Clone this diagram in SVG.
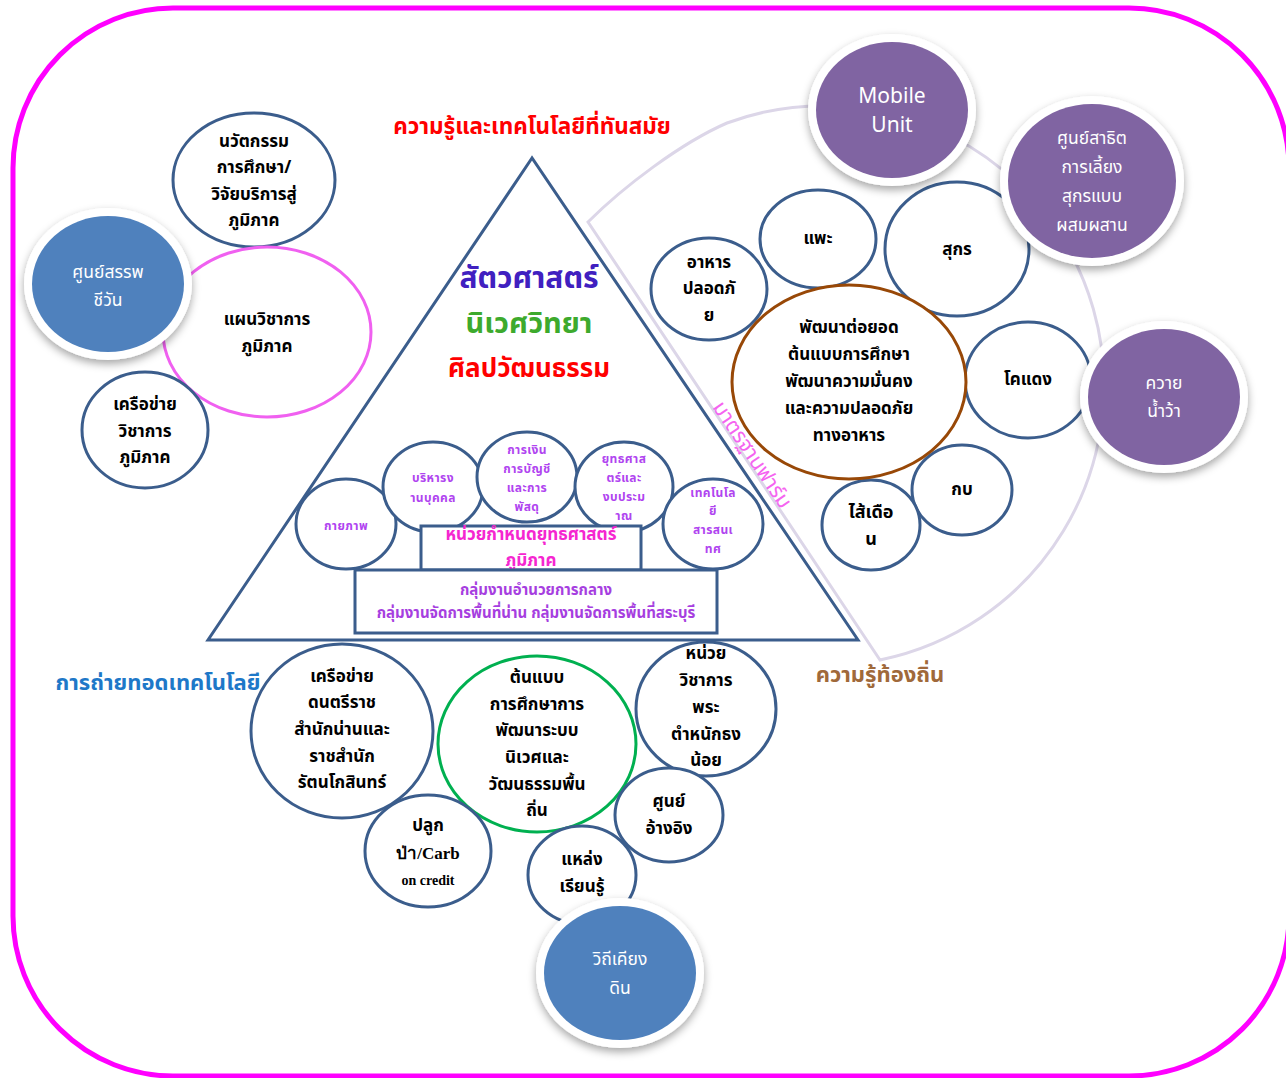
<svg xmlns="http://www.w3.org/2000/svg" width="1286" height="1078" viewBox="0 0 1286 1078">
<defs>
<style>
text{font-family:"Noto Sans Thai","Liberation Sans","Noto Sans","DejaVu Sans",sans-serif;text-anchor:middle;dominant-baseline:central}
.c{fill:#fff;stroke:#3B5D8C;stroke-width:3}
.t{font-size:17px;font-weight:bold;fill:#000}
.tp{font-size:12px;font-weight:bold;fill:#B044F0;letter-spacing:0.4px}
.w{font-size:17.5px;fill:#fff}
.ring{fill:#fff;filter:url(#sh)}
.blue{fill:#4F81BD}
.purple{fill:#8064A2}
</style>
<filter id="sh" x="-30%" y="-30%" width="160%" height="170%">
<feDropShadow dx="0" dy="4" stdDeviation="4" flood-color="#000" flood-opacity="0.35"/>
</filter>
</defs>
<rect width="1286" height="1078" fill="#fff"/>
<rect x="13" y="8" width="1276" height="1068" rx="160" ry="160" fill="none" stroke="#FF00FF" stroke-width="5"/>

<g id="connectors">
<path d="M880,660 L588,222 C623,187 681,143 727,123 A280,280 0 1 1 880,660 Z" fill="none" stroke="#DCD6E8" stroke-width="3"/>
</g>

<g id="triangle">
<polygon points="532,158 208,640 858,640" fill="none" stroke="#3B5D8C" stroke-width="3"/>
</g>

<g id="labels">
<text x="532" y="127" style="font-size:22.5px;font-weight:bold;fill:#FF0000">ความรู้และเทคโนโลยีที่ทันสมัย</text>
<text x="529" y="279" style="font-size:30px;font-weight:bold;fill:#4020C0">สัตวศาสตร์</text>
<text x="529" y="324" style="font-size:29px;font-weight:bold;fill:#3DAA2D">นิเวศวิทยา</text>
<text x="529" y="369" style="font-size:26px;font-weight:bold;fill:#FF0000">ศิลปวัฒนธรรม</text>
<text x="158" y="683" style="font-size:22px;font-weight:bold;fill:#1E78C8">การถ่ายทอดเทคโนโลยี</text>
<text x="880" y="675" style="font-size:22px;font-weight:bold;fill:#A0693A">ความรู้ท้องถิ่น</text>
<text x="752" y="455" transform="rotate(56 752 455)" style="font-size:21px;fill:#F564F0">มาตรฐานฟาร์ม</text>
</g>

<g id="n-nawat">
<ellipse class="c" cx="254" cy="180" rx="81" ry="67"/>
<text class="t" x="254" y="142">นวัตกรรม</text>
<text class="t" x="254" y="168">การศึกษา/</text>
<text class="t" x="254" y="195">วิจัยบริการสู่</text>
<text class="t" x="254" y="221">ภูมิภาค</text>
</g>
<g id="n-plan">
<ellipse cx="267" cy="332" rx="104" ry="85" fill="#fff" stroke="#F060F0" stroke-width="3"/>
<text class="t" x="267" y="320">แผนวิชาการ</text>
<text class="t" x="267" y="347">ภูมิภาค</text>
</g>
<g id="n-sanpa">
<ellipse class="ring" cx="108" cy="284" rx="84" ry="76"/>
<ellipse class="blue" cx="108" cy="284" rx="76" ry="68"/>
<text class="w" x="108" y="272">ศูนย์สรรพ</text>
<text class="w" x="108" y="300">ชีวัน</text>
</g>
<g id="n-network">
<ellipse class="c" cx="145" cy="430" rx="63" ry="58"/>
<text class="t" x="145" y="405">เครือข่าย</text>
<text class="t" x="145" y="432">วิชาการ</text>
<text class="t" x="145" y="458">ภูมิภาค</text>
</g>

<g id="n-physical">
<ellipse class="c" cx="346" cy="524" rx="50" ry="45"/>
<text class="tp" x="346" y="526">กายภาพ</text>
</g>
<g id="n-hr">
<ellipse class="c" cx="433" cy="487" rx="50" ry="45"/>
<text class="tp" x="433" y="478">บริหารง</text>
<text class="tp" x="433" y="498">านบุคคล</text>
</g>
<g id="n-finance">
<ellipse class="c" cx="527" cy="477" rx="50" ry="45"/>
<text class="tp" x="527" y="450">การเงิน</text>
<text class="tp" x="527" y="469">การบัญชี</text>
<text class="tp" x="527" y="488">และการ</text>
<text class="tp" x="527" y="507">พัสดุ</text>
</g>
<g id="n-strategy">
<ellipse class="c" cx="624" cy="487" rx="49" ry="45"/>
<text class="tp" x="624" y="459">ยุทธศาส</text>
<text class="tp" x="624" y="478">ตร์และ</text>
<text class="tp" x="624" y="497">งบประม</text>
<text class="tp" x="624" y="516">าณ</text>
</g>
<g id="n-it">
<ellipse class="c" cx="713" cy="524" rx="50" ry="45"/>
<text class="tp" x="713" y="493">เทคโนโล</text>
<text class="tp" x="713" y="511">ยี</text>
<text class="tp" x="713" y="530">สารสนเ</text>
<text class="tp" x="713" y="549">ทศ</text>
</g>
<g id="n-unit">
<rect x="421" y="526" width="220" height="44" fill="#fff" stroke="#3B5D8C" stroke-width="3"/>
<text x="531" y="535" style="font-size:17px;font-weight:bold;fill:#F526D0">หน่วยกำหนดยุทธศาสตร์</text>
<text x="531" y="561" style="font-size:17px;font-weight:bold;fill:#F526D0">ภูมิภาค</text>
</g>
<g id="n-groups">
<rect x="355" y="570" width="362" height="63" fill="#fff" stroke="#3B5D8C" stroke-width="3"/>
<text x="536" y="590" style="font-size:15px;font-weight:bold;fill:#A63EE0">กลุ่มงานอำนวยการกลาง</text>
<text x="536" y="613" style="font-size:15px;font-weight:bold;fill:#A63EE0">กลุ่มงานจัดการพื้นที่น่าน กลุ่มงานจัดการพื้นที่สระบุรี</text>
</g>

<g id="n-food">
<ellipse class="c" cx="709" cy="289" rx="58" ry="51"/>
<text class="t" x="709" y="263">อาหาร</text>
<text class="t" x="709" y="289">ปลอดภั</text>
<text class="t" x="709" y="316">ย</text>
</g>
<g id="n-goat">
<ellipse class="c" cx="818" cy="239" rx="58" ry="49"/>
<text class="t" x="818" y="239">แพะ</text>
</g>
<g id="n-pig">
<ellipse class="c" cx="957" cy="249" rx="72" ry="67"/>
<text class="t" x="957" y="250">สุกร</text>
</g>
<g id="n-cattle">
<ellipse class="c" cx="1028" cy="380" rx="63" ry="58"/>
<text class="t" x="1028" y="380">โคแดง</text>
</g>
<g id="n-frog">
<ellipse class="c" cx="962" cy="490" rx="50" ry="45"/>
<text class="t" x="962" y="490">กบ</text>
</g>
<g id="n-worm">
<ellipse class="c" cx="871" cy="525" rx="49" ry="45"/>
<text class="t" x="871" y="512" style="font-size:18px">ไส้เดือ</text>
<text class="t" x="871" y="539" style="font-size:18px">น</text>
</g>
<g id="n-develop">
<ellipse cx="849" cy="382" rx="117" ry="97" fill="#fff" stroke="#984807" stroke-width="3"/>
<text class="t" x="849" y="328">พัฒนาต่อยอด</text>
<text class="t" x="849" y="355">ต้นแบบการศึกษา</text>
<text class="t" x="849" y="382">พัฒนาความมั่นคง</text>
<text class="t" x="849" y="409">และความปลอดภัย</text>
<text class="t" x="849" y="436">ทางอาหาร</text>
</g>
<g id="n-mobile">
<ellipse class="ring" cx="892" cy="110" rx="84" ry="76"/>
<ellipse class="purple" cx="892" cy="110" rx="76" ry="68"/>
<text class="w" x="892" y="96" style="font-size:21px">Mobile</text>
<text class="w" x="892" y="125" style="font-size:21px">Unit</text>
</g>
<g id="n-pigdemo">
<ellipse class="ring" cx="1092" cy="181" rx="92" ry="85"/>
<ellipse class="purple" cx="1092" cy="181" rx="84" ry="77"/>
<text class="w" x="1092" y="138">ศูนย์สาธิต</text>
<text class="w" x="1092" y="167">การเลี้ยง</text>
<text class="w" x="1092" y="196">สุกรแบบ</text>
<text class="w" x="1092" y="225">ผสมผสาน</text>
</g>
<g id="n-buffalo">
<ellipse class="ring" cx="1164" cy="397" rx="84" ry="76"/>
<ellipse class="purple" cx="1164" cy="397" rx="76" ry="68"/>
<text class="w" x="1164" y="383">ควาย</text>
<text class="w" x="1164" y="411">น้ำว้า</text>
</g>

<g id="n-music">
<ellipse class="c" cx="342" cy="731" rx="91" ry="87"/>
<text class="t" x="342" y="677">เครือข่าย</text>
<text class="t" x="342" y="703">ดนตรีราช</text>
<text class="t" x="342" y="730">สำนักน่านและ</text>
<text class="t" x="342" y="757">ราชสำนัก</text>
<text class="t" x="342" y="783">รัตนโกสินทร์</text>
</g>
<g id="n-model">
<ellipse cx="537" cy="744" rx="99" ry="88" fill="#fff" stroke="#00B050" stroke-width="3"/>
<text class="t" x="537" y="678">ต้นแบบ</text>
<text class="t" x="537" y="705">การศึกษาการ</text>
<text class="t" x="537" y="731">พัฒนาระบบ</text>
<text class="t" x="537" y="758">นิเวศและ</text>
<text class="t" x="537" y="785">วัฒนธรรมพื้น</text>
<text class="t" x="537" y="811">ถิ่น</text>
</g>
<g id="n-palace">
<ellipse class="c" cx="706" cy="709" rx="70" ry="67"/>
<text class="t" x="706" y="654">หน่วย</text>
<text class="t" x="706" y="681">วิชาการ</text>
<text class="t" x="706" y="708">พระ</text>
<text class="t" x="706" y="735">ตำหนักธง</text>
<text class="t" x="706" y="761">น้อย</text>
</g>
<g id="n-reference">
<ellipse class="c" cx="669" cy="815" rx="54" ry="47"/>
<text class="t" x="669" y="802">ศูนย์</text>
<text class="t" x="669" y="829">อ้างอิง</text>
</g>
<g id="n-carbon">
<ellipse class="c" cx="428" cy="851" rx="63" ry="56"/>
<text class="t" x="428" y="826">ปลูก</text>
<text class="t" x="428" y="853" style="font-family:'Liberation Serif',serif">ป่า/Carb</text>
<text class="t" x="428" y="880" style="font-family:'Liberation Serif',serif;font-size:14px">on credit</text>
</g>
<g id="n-learning">
<ellipse class="c" cx="582" cy="875" rx="54" ry="49"/>
<text class="t" x="582" y="860">แหล่ง</text>
<text class="t" x="582" y="887">เรียนรู้</text>
</g>
<g id="n-withi">
<ellipse class="ring" cx="620" cy="973" rx="84" ry="75"/>
<ellipse class="blue" cx="620" cy="973" rx="76" ry="67"/>
<text class="w" x="620" y="959">วิถีเคียง</text>
<text class="w" x="620" y="988">ดิน</text>
</g>
</svg>
